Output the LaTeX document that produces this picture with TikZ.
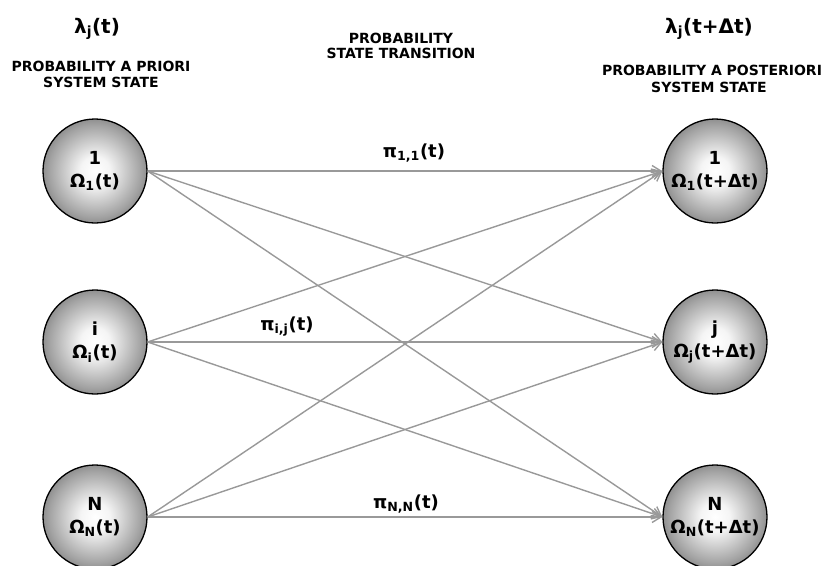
\documentclass[tikz,border=0pt]{standalone}
\usepackage{fontspec}
\setmainfont{DejaVu Sans}
\usetikzlibrary{arrows.meta}

% grey sphere fill for the state circles (edge of the circle sits near 35bp)
\pgfdeclareradialshading{orb}{\pgfpoint{0bp}{0bp}}{%
  color(0bp)=(white); color(7bp)=(black!4); color(22bp)=(black!36);
  color(35bp)=(black!68); color(50bp)=(black!68)}

\newcommand\lowidx[1]{\textsubscript{#1}}

\tikzset{
  state/.style={circle, draw=black, line width=1.3pt, minimum size=104pt, inner sep=0pt,
    shading=orb, align=center, font=\fontsize{18}{23}\selectfont\bfseries},
  link/.style={draw=black!40, line width=1.4pt, -{Straight Barb[length=9pt,width=11pt]}},
  caption/.style={anchor=base, font=\fontsize{14}{16.5}\selectfont\bfseries},
  header/.style={anchor=base, font=\fontsize{20}{24}\selectfont\bfseries},
  trans/.style={anchor=base, font=\fontsize{18}{20}\selectfont\bfseries}
}

\begin{document}
\begin{tikzpicture}[x=1pt, y=-1pt]
  \useasboundingbox (0,0) rectangle (822,565);

  % column headings
  \node[header]  (hl)  at (97,33)  {λ\lowidx{j}(t)};
  \node[caption] (cl1) at (101,71) {PROBABILITY A PRIORI};
  \node[caption] (cl2) at (101,87) {SYSTEM STATE};
  \node[caption] (cm1) at (401,43) {PROBABILITY};
  \node[caption] (cm2) at (401,58) {STATE TRANSITION};
  \node[header]  (hr)  at (709,33) {λ\lowidx{j}(t+Δt)};
  \node[caption] (cr1) at (712,75) {PROBABILITY A POSTERIORI};
  \node[caption] (cr2) at (709,92) {SYSTEM STATE};

  % a priori states
  \node[state] (L1) at (95,171) {1\\Ω\lowidx{1}(t)};
  \node[state] (Li) at (95,342) {i\\Ω\lowidx{i}(t)};
  \node[state] (LN) at (95,517) {N\\Ω\lowidx{N}(t)};

  % a posteriori states
  \node[state] (R1) at (715,171) {1\\Ω\lowidx{1}(t+Δt)};
  \node[state] (Rj) at (715,342) {j\\Ω\lowidx{j}(t+Δt)};
  \node[state] (RN) at (715,517) {N\\Ω\lowidx{N}(t+Δt)};

  % transitions
  \foreach \a in {L1,Li,LN}
    \foreach \b in {R1,Rj,RN}
      \draw[link] (\a.east) -- (\b.west);

  % transition labels
  \node[trans] (p11) at (414,157) {π\lowidx{1,1}(t)};
  \node[trans] (pij) at (287,330) {π\lowidx{i,j}(t)};
  \node[trans] (pNN) at (406,508) {π\lowidx{N,N}(t)};
\end{tikzpicture}
\end{document}
